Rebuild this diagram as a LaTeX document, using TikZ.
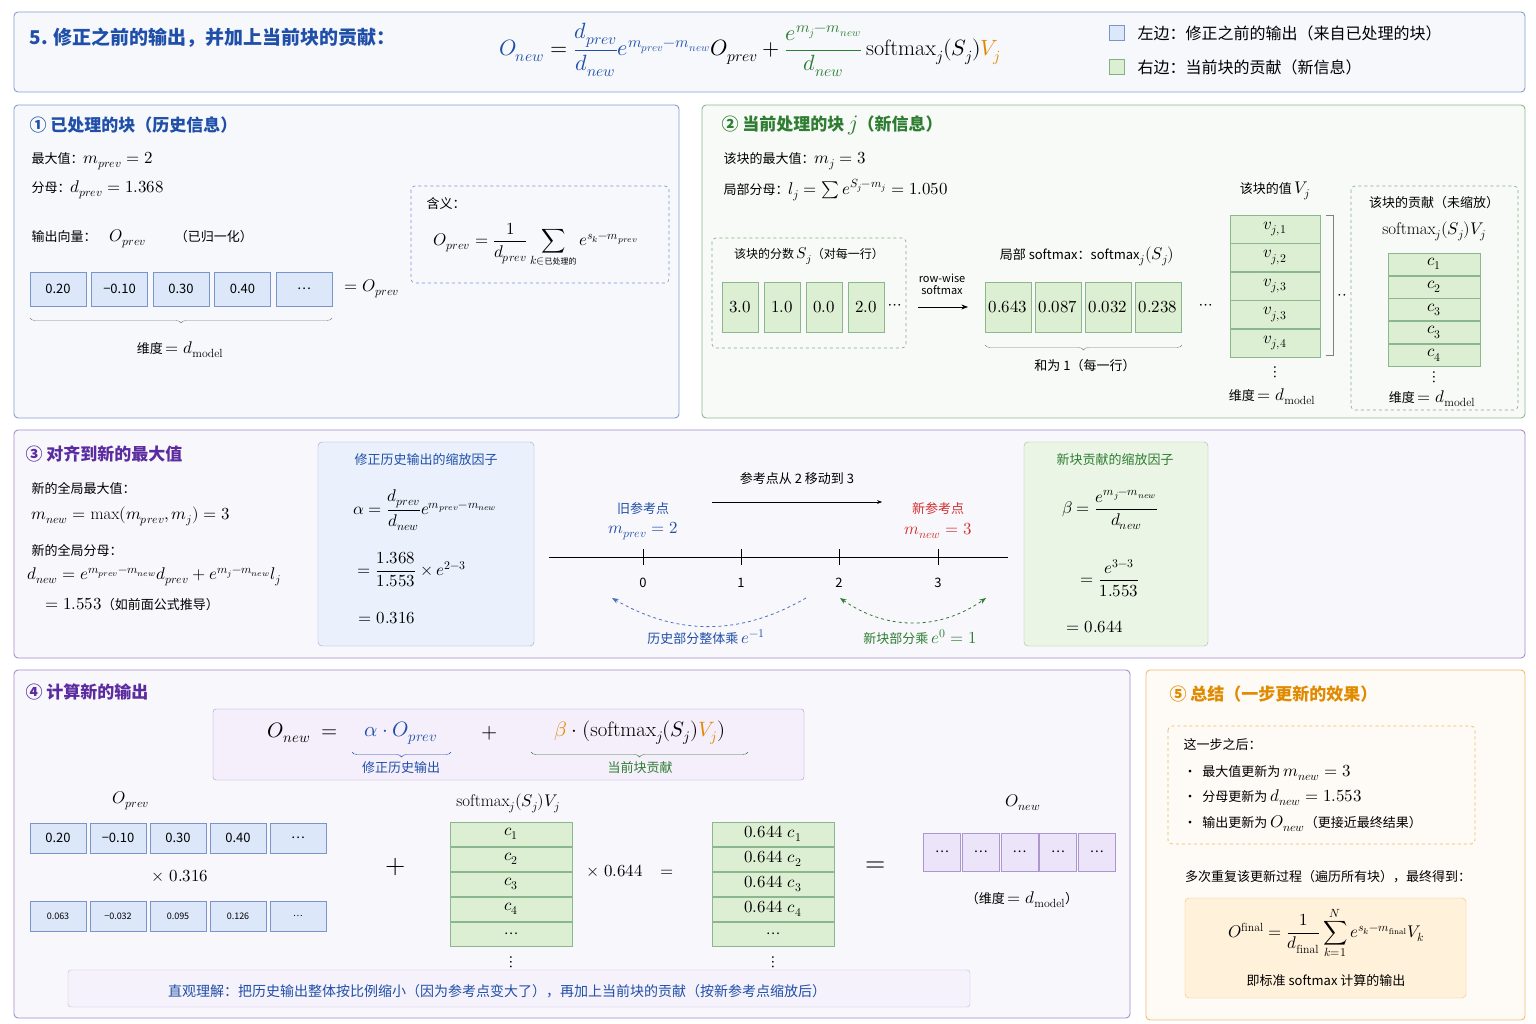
\documentclass[tikz,border=0pt]{standalone}
\usepackage{amsmath}
\usepackage{unicode-math}
\setmainfont{Noto Sans CJK SC}
\setmathfont{Latin Modern Math}[Scale=1.3]
\setmathrm{Latin Modern Roman}[Scale=1.3]
\usetikzlibrary{arrows.meta,decorations.pathreplacing}
\definecolor{tblue}{HTML}{1F4FA8}
\definecolor{tgreen}{HTML}{2E7D32}
\definecolor{tpurple}{HTML}{5B2C9F}
\definecolor{torange}{HTML}{E08A00}
\definecolor{tred}{HTML}{D32F2F}
\definecolor{bfill}{HTML}{DCE8FA}
\definecolor{gfill}{HTML}{DDEFD3}
\definecolor{pfill}{HTML}{ECE4F8}
\definecolor{ofill}{HTML}{FFF1DA}
\tikzset{
  every node/.style={font=\fontsize{13}{16}\selectfont},
  panel/.style={draw=#1!55, fill=#1!4, rounded corners=4pt, line width=0.9pt},
  dbox/.style={draw=#1!60, dashed, rounded corners=4pt, line width=0.7pt},
  ttl/.style={anchor=west, font=\fontsize{17}{20}\selectfont\bfseries, text=#1},
  txt/.style={anchor=west},
  cellb/.style={draw=tblue!60, fill=bfill, minimum width=56, minimum height=34},
  cellg/.style={draw=tgreen!55, fill=gfill, minimum width=#1, minimum height=22},
  cellp/.style={draw=tpurple!50, fill=pfill, minimum width=37, minimum height=38},
  brc/.style={decorate, decoration={brace, amplitude=5pt, mirror}, draw=gray},
}
\begin{document}
\begin{tikzpicture}[x=1pt,y=-1pt,>=Stealth]
\useasboundingbox (0,0) rectangle (1536,1024);
% panels
\draw[panel=tblue] (14,12) rectangle (1525,92);
\draw[panel=tblue] (14,105) rectangle (679,418);
\draw[panel=tgreen] (702,105) rectangle (1525,418);
\draw[panel=tpurple] (14,430) rectangle (1525,658);
\draw[panel=tpurple] (14,670) rectangle (1130,1018);
\draw[panel=torange] (1146,670) rectangle (1525,1020);

% header
\node[ttl=tblue, font=\fontsize{19}{22}\selectfont\bfseries] (head) at (26,38) {5. 修正之前的输出，并加上当前块的贡献：};
\node[font=\fontsize{17}{24}\selectfont] (hform) at (750,50)
  {$\color{tblue}O_{new}\color{black} = \color{tblue}\dfrac{d_{prev}}{d_{new}}e^{m_{prev}-m_{new}}\color{black}O_{prev} + \color{tgreen}\dfrac{e^{m_j-m_{new}}}{d_{new}}\color{black}\,\mathrm{softmax}_j(S_j)\color{torange}V_j$};
\node[draw=tblue!60, fill=bfill, minimum size=15] (lgb) at (1117,33) {};
\node[draw=tgreen!60, fill=gfill, minimum size=15] (lgg) at (1117,67) {};
\node[txt, font=\fontsize{16}{18}\selectfont] (lgbt) at (1134,33) {左边：修正之前的输出（来自已处理的块）};
\node[txt, font=\fontsize{16}{18}\selectfont] (lggt) at (1134,67) {右边：当前块的贡献（新信息）};

% panel 1
\node[ttl=tblue] (t1) at (26,125) {① 已处理的块（历史信息）};
\node[txt] (p1a) at (28,161) {最大值：$m_{prev}=2$};
\node[txt] (p1b) at (28,190) {分母：$d_{prev}=1.368$};
\node[txt] (p1c) at (28,239) {输出向量：\quad $O_{prev}$ \qquad（已归一化）};
\foreach \v [count=\i] in {0.20,−0.10,0.30,0.40,…}
  \node[cellb] (o\i) at (58+61.5*\i-61.5,289) {\v};
\node (p1eq) at (372,289) {$=O_{prev}$};
\draw[brc] (30,318) -- (332,318);
\node (p1dim) at (180,350) {维度 $=d_{\mathrm{model}}$};
\draw[dbox=tblue] (411,186) rectangle (669,283);
\node[txt] (p1m) at (423,204) {含义：};
\node (p1f) at (536,245) {$O_{prev}=\dfrac{1}{d_{prev}}\displaystyle\sum_{k\in\text{\fontsize{8}{9}\selectfont 已处理的}}e^{s_k-m_{prev}}$};

% panel 2
\node[ttl=tgreen] (t2) at (718,125) {② 当前处理的块 $j$（新信息）};
\node[txt] (p2a) at (720,161) {该块的最大值：$m_j=3$};
\node[txt] (p2b) at (720,190) {局部分母：$l_j=\sum e^{S_j-m_j}=1.050$};
\draw[dbox=tgreen] (712,238) rectangle (906,348);
\node (sl) at (809,256) {\fontsize{12}{14}\selectfont 该块的分数 $S_j$（对每一行）};
\foreach \v [count=\i] in {3.0,1.0,0.0,2.0}
  \node[cellg=36, minimum height=50] (s\i) at (740+42*\i-42,307) {$\v$};
\node (sd) at (895,307) {$\cdots$};
\node[align=center, font=\fontsize{11}{12}\selectfont] (rw) at (942,284) {row-wise\\softmax};
\coordinate (ra) at (918,307);
\coordinate (rb) at (968,307);
\draw[->, thick] (ra) -- (rb);
\node (pl) at (1087,256) {局部 softmax：softmax$_j(S_j)$};
\foreach \v [count=\i] in {0.643,0.087,0.032,0.238}
  \node[cellg=46, minimum height=50] (p\i) at (1008+50*\i-50,307) {$\v$};
\draw[brc] (985,345) -- (1182,345);
\node (psum) at (1085,366) {和为 1（每一行）};
\node (pd) at (1206,307) {$\cdots$};
\node (vl) at (1275,191) {该块的值 $V_j$};
\foreach \v [count=\i] in {1,2,3,3,4}
  \node[cellg=90, minimum height=28] (v\i) at (1275,229+28.5*\i-28.5) {$v_{j,\v}$};
\node (vv) at (1275,372) {$\vdots$};
\node (vdim) at (1272,397) {维度 $=d_{\mathrm{model}}$};
\draw[gray] (1326,215) -- (1333,215) -- (1333,355) -- (1326,355);
\node (vdd) at (1342,297) {$\cdot\cdot$};
\draw[dbox=tgreen] (1351,186) rectangle (1518,410);
\node (cl) at (1434,203) {该块的贡献（未缩放）};
\node (cf) at (1434,231) {$\mathrm{softmax}_j(S_j)V_j$};
\foreach \v [count=\i] in {1,2,3,3,4}
  \node[cellg=92] (c\i) at (1434,264+22.8*\i-22.8) {$c_{\v}$};
\node (cv) at (1434,377) {$\vdots$};
\node (cdim) at (1432,399) {维度 $=d_{\mathrm{model}}$};

% panel 3
\node[ttl=tpurple] (t3) at (22,454) {③ 对齐到新的最大值};
\node[txt] (p3a) at (28,488) {新的全局最大值：};
\node[txt] (p3b) at (28,516) {$m_{new}=\max(m_{prev},m_j)=3$};
\node[txt] (p3c) at (28,551) {新的全局分母：};
\node[txt] (p3d) at (24,577) {$d_{new}=e^{m_{prev}-m_{new}}d_{prev}+e^{m_j-m_{new}}l_j$};
\node[txt] (p3e) at (42,604) {$=1.553$（如前面公式推导）};
\draw[draw=tblue!50, fill=bfill!60, rounded corners=4pt] (318,442) rectangle (534,646);
\node[text=tblue] (al) at (426,460) {修正历史输出的缩放因子};
\node (af1) at (425,510) {$\alpha=\dfrac{d_{prev}}{d_{new}}e^{m_{prev}-m_{new}}$};
\node (af2) at (412,570) {$=\dfrac{1.368}{1.553}\times e^{2-3}$};
\node (af3) at (387,618) {$=0.316$};
\coordinate (nl) at (549,557);
\coordinate (nr) at (1008,557);
\draw (nl) -- (nr);
\foreach \x [count=\i from 0] in {643,741,839,938} {
  \draw (\x,549) -- (\x,565);
  \node (n\i) at (\x,583) {\i};
}
\node[text=tblue] (ol) at (643,509) {旧参考点};
\node[text=tblue] (om) at (643,531) {$m_{prev}=2$};
\node[text=tred] (nwl) at (938,509) {新参考点};
\node[text=tred] (nwm) at (938,531) {$m_{new}=3$};
\node (mv) at (797,479) {参考点从 2 移动到 3};
\coordinate (ma) at (712,502);
\coordinate (mb) at (882,502);
\draw[->] (ma) -- (mb);
\coordinate (ha) at (806,598);
\coordinate (hb) at (612,598);
\draw[->, dashed, tblue!80, thick] (ha) to[bend left=30] (hb);
\node[text=tblue] (hl) at (706,637) {历史部分整体乘 $e^{-1}$};
\coordinate (ga) at (840,598);
\coordinate (gb) at (986,598);
\draw[<->, dashed, tgreen, thick] (ga) to[bend right=35] (gb);
\node[text=tgreen] (gl) at (920,637) {新块部分乘 $e^{0}=1$};
\draw[draw=tgreen!50, fill=gfill!60, rounded corners=4pt] (1024,442) rectangle (1208,646);
\node[text=tgreen] (bl) at (1115,460) {新块贡献的缩放因子};
\node (bf1) at (1110,510) {$\beta=\dfrac{e^{m_j-m_{new}}}{d_{new}}$};
\node (bf2) at (1110,578) {$=\dfrac{e^{3-3}}{1.553}$};
\node (bf3) at (1095,627) {$=0.644$};

% panel 4
\node[ttl=tpurple] (t4) at (22,692) {④ 计算新的输出};
\draw[draw=tpurple!50, fill=pfill!60, rounded corners=3pt] (213,709) rectangle (804,780);
\node[font=\fontsize{16}{22}\selectfont] (e1) at (303,733) {$O_{new}\;=$};
\node[font=\fontsize{16}{22}\selectfont, text=tblue] (e2) at (401,733) {$\alpha\cdot O_{prev}$};
\node[font=\fontsize{16}{22}\selectfont] (e3) at (490,733) {$+$};
\node[font=\fontsize{16}{22}\selectfont] (e4) at (640,733) {$\color{torange}\beta\color{black}\cdot(\mathrm{softmax}_j(S_j)\color{torange}V_j\color{black})$};
\draw[brc, draw=tblue] (352,752) -- (451,752);
\draw[brc, draw=tgreen] (531,752) -- (748,752);
\node[text=tblue] (e2l) at (401,768) {修正历史输出};
\node[text=tgreen] (e4l) at (640,768) {当前块贡献};
\node (opl) at (131,801) {$O_{prev}$};
\foreach \v [count=\i] in {0.20,−0.10,0.30,0.40,…}
  \node[cellb, minimum height=30] (a\i) at (58+60*\i-60,838) {\v};
\node (mul1) at (180,876) {$\times\;0.316$};
\foreach \v [count=\i] in {0.063,−0.032,0.095,0.126,…}
  \node[cellb, minimum height=30] (b\i) at (58+60*\i-60,916) {\small\v};
\node[font=\fontsize{20}{28}\selectfont] (plus) at (396,867) {$+$};
\node (sml) at (508,803) {$\mathrm{softmax}_j(S_j)V_j$};
\foreach \v [count=\i] in {$c_1$,$c_2$,$c_3$,$c_4$,…}
  \node[cellg=122, minimum height=24] (d\i) at (511,834+25*\i-25) {\v};
\node (dv) at (511,962) {$\vdots$};
\node (mul2) at (630,871) {$\times\;0.644\quad=$};
\foreach \v [count=\i] in {$0.644\;c_1$,$0.644\;c_2$,$0.644\;c_3$,$0.644\;c_4$,…}
  \node[cellg=122, minimum height=24] (f\i) at (773,834+25*\i-25) {\v};
\node (fv) at (773,962) {$\vdots$};
\node[font=\fontsize{20}{28}\selectfont] (eqb) at (876,867) {$=$};
\node (onl) at (1023,803) {$O_{new}$};
\foreach \i in {1,...,5}
  \node[cellp] (g\i) at (942+38.7*\i-38.7,852) {…};
\node (gdim) at (1022,900) {（维度 $=d_{\mathrm{model}}$）};
\draw[draw=tpurple!35, fill=pfill!50, rounded corners=3pt] (68,970) rectangle (970,1007);
\node[text=tblue, font=\fontsize{14}{16}\selectfont] (sum4) at (497,991) {直观理解：把历史输出整体按比例缩小（因为参考点变大了），再加上当前块的贡献（按新参考点缩放后）};

% panel 5
\node[ttl=torange] (t5) at (1166,694) {⑤ 总结（一步更新的效果）};
\draw[dbox=torange] (1168,726) rectangle (1475,844);
\node[txt] (q0) at (1180,745) {这一步之后：};
\node[txt] (q1) at (1180,773) {•\ \ 最大值更新为 $m_{new}=3$};
\node[txt] (q2) at (1180,798) {•\ \ 分母更新为 $d_{new}=1.553$};
\node[txt] (q3) at (1180,824) {•\ \ 输出更新为 $O_{new}$（更接近最终结果）};
\node (q4) at (1328,877) {多次重复该更新过程（遍历所有块），最终得到：};
\draw[draw=torange!50, fill=ofill, rounded corners=4pt] (1185,898) rectangle (1466,998);
\node (qf) at (1326,933) {$O^{\mathrm{final}}=\dfrac{1}{d_{\mathrm{final}}}\displaystyle\sum_{k=1}^{N}e^{s_k-m_{\mathrm{final}}}V_k$};
\node (q5) at (1326,981) {即标准 softmax 计算的输出};
\end{tikzpicture}
\end{document}
